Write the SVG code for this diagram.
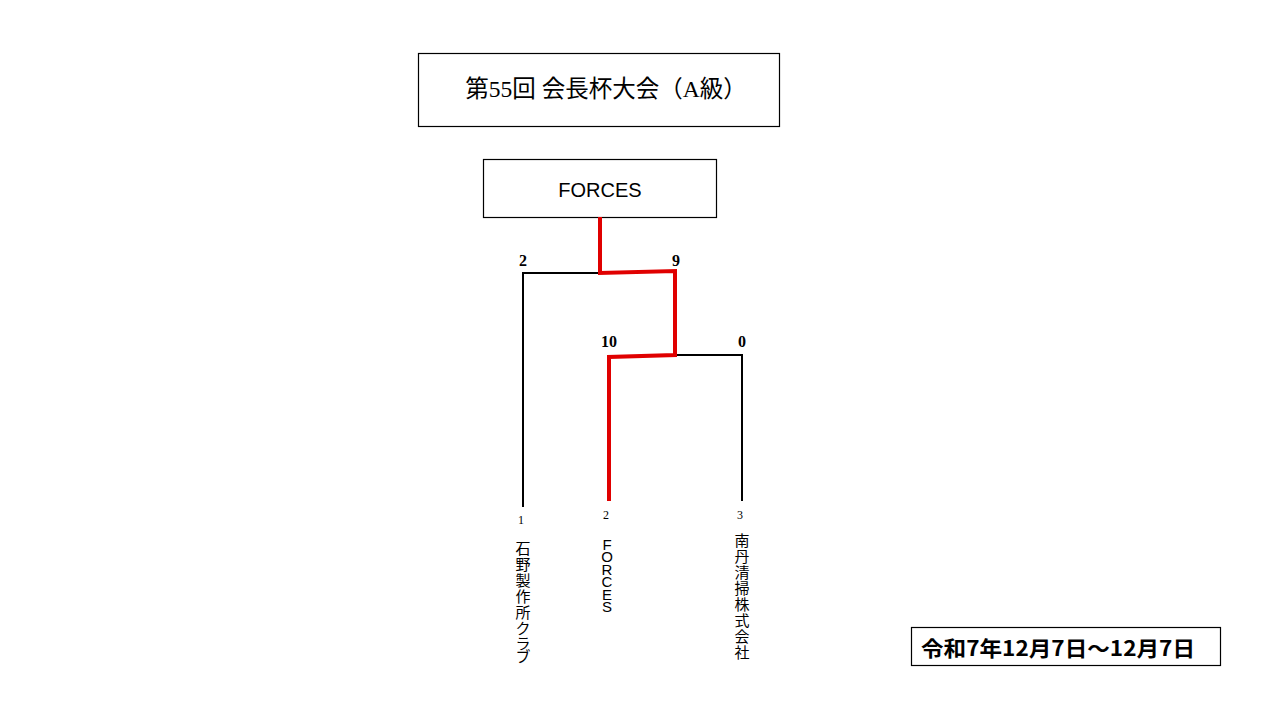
<svg xmlns="http://www.w3.org/2000/svg" width="1280" height="720" viewBox="0 0 1280 720">
<style>
.box{fill:#fff;stroke:#000;stroke-width:1.2}
.blk{fill:none;stroke:#000;stroke-width:2}
.red{fill:none;stroke:#e00000;stroke-width:4;stroke-linejoin:miter}
.score{font-family:"Liberation Serif","Noto Sans CJK JP",serif;font-weight:bold;font-size:16px;text-anchor:middle}
.seed{font-family:"Liberation Serif",serif;font-size:12px;text-anchor:middle}
.vj{font-family:"Noto Sans CJK JP",sans-serif;font-size:15px;text-anchor:middle}
.ve{font-family:"Liberation Sans",sans-serif;font-size:15px;text-anchor:middle}
</style>
<rect width="1280" height="720" fill="#fff"/>
<g id="title">
<rect class="box" x="418.5" y="53.5" width="361" height="73"/>
<text x="606" y="97" text-anchor="middle" font-family="'Liberation Serif','Noto Sans CJK JP',serif" font-size="23.5">第55回 会長杯大会（A級）</text>
</g>
<g id="winner">
<rect class="box" x="483.5" y="159.5" width="233" height="58"/>
<text x="600" y="197" text-anchor="middle" font-family="'Liberation Sans',Arial,sans-serif" font-size="20">FORCES</text>
</g>
<g id="connectors">
<polyline class="blk" points="523,507 523,273 600,273"/>
<polyline class="blk" points="675,355 742,355 742,501"/>
<polyline class="red" points="600,217 600,273 675,271 675,355 609,357 609,501"/>
</g>
<g id="scores">
<text class="score" x="523" y="266">2</text>
<text class="score" x="676" y="266">9</text>
<text class="score" x="609" y="347">10</text>
<text class="score" x="742" y="347">0</text>
</g>
<g id="team1">
<text class="seed" x="521" y="524">1</text>
<text class="vj"><tspan x="523" y="554">石</tspan><tspan x="523" y="570">野</tspan><tspan x="523" y="586">製</tspan><tspan x="523" y="602">作</tspan><tspan x="523" y="618">所</tspan><tspan x="523" y="634">ク</tspan><tspan x="523" y="649">ラ</tspan><tspan x="523" y="662">ブ</tspan></text>
</g>
<g id="team2">
<text class="seed" x="606" y="519">2</text>
<text class="ve"><tspan x="607" y="550">F</tspan><tspan x="607" y="562">O</tspan><tspan x="607" y="575">R</tspan><tspan x="607" y="587">C</tspan><tspan x="607" y="600">E</tspan><tspan x="607" y="612">S</tspan></text>
</g>
<g id="team3">
<text class="seed" x="740" y="519">3</text>
<text class="vj"><tspan x="742" y="546">南</tspan><tspan x="742" y="562">丹</tspan><tspan x="742" y="578">清</tspan><tspan x="742" y="594">掃</tspan><tspan x="742" y="610">株</tspan><tspan x="742" y="626">式</tspan><tspan x="742" y="642">会</tspan><tspan x="742" y="658">社</tspan></text>
</g>
<g id="date">
<rect class="box" x="911.5" y="627.5" width="309" height="38"/>
<text x="921" y="656" font-family="'Noto Sans CJK JP',sans-serif" font-size="21" font-weight="bold" textLength="274" lengthAdjust="spacingAndGlyphs">令和7年12月7日～12月7日</text>
</g>
</svg>
